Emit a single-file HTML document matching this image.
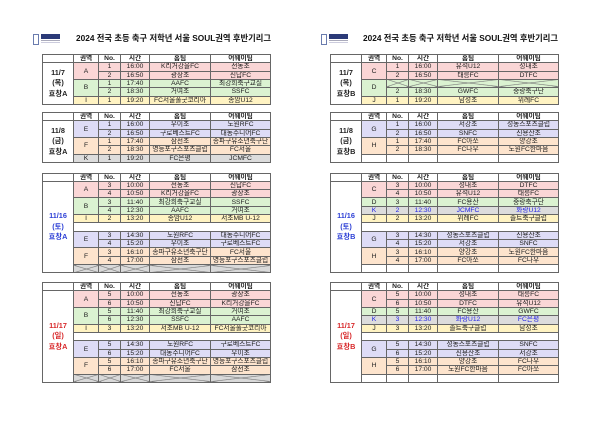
<!DOCTYPE html>
<html><head><meta charset="utf-8">
<style>
body{margin:0;width:600px;height:424px;background:#fff;position:relative;overflow:hidden;font-family:"Liberation Sans","Noto Sans CJK KR",sans-serif;}
table{position:absolute;border-collapse:collapse;table-layout:fixed;width:228px;font-size:6.7px;color:#222;}
td{border:1px solid #666;padding:0;line-height:7px;text-align:center;white-space:nowrap;overflow:hidden;}
tr{height:8.333px;}
tr.h td{font-weight:bold;background:#fff;}
.p td{background:#fad6d6;}
.g td{background:#dbf2d1;}
.y td{background:#fff3c2;}
.v td{background:#dedcf6;}
.o td{background:#fde4cd;}
.k td{background:#dcdcdc;}
td.d{background:#fff !important;font-size:7.3px;font-weight:bold;line-height:10.5px;}
td.w{background:#fff !important;}
.blue{color:#2c3fd6 !important;}
.red{color:#d8282a !important;}
tr.bl td{color:#2424e6;}
td.x{background-image:linear-gradient(to top right,transparent calc(50% - 0.6px),#777 50%,transparent calc(50% + 0.6px)),linear-gradient(to bottom right,transparent calc(50% - 0.6px),#777 50%,transparent calc(50% + 0.6px));}
td.xg{background-color:#d9d9d9 !important;}
.title{position:absolute;top:33px;font-size:8.3px;font-weight:bold;line-height:11px;color:#111;white-space:nowrap;font-family:"Liberation Sans","Noto Sans CJK KR",sans-serif;}
.logo{position:absolute;top:33px;width:27px;height:11px;}
</style></head><body>

<div class="logo" style="left:33px">
  <div style="position:absolute;left:0;top:1px;width:4px;height:9px;border:1px solid #6a7cae;"></div>
  <div style="position:absolute;left:8px;top:1px;width:19px;height:5px;background:#2b3a78;"></div>
  <div style="position:absolute;left:8px;top:7px;width:19px;height:1px;background:#aab;"></div>
  <div style="position:absolute;left:8px;top:9px;width:19px;height:1px;background:#ccd;"></div>
</div>
<div class="logo" style="left:321px">
  <div style="position:absolute;left:0;top:1px;width:4px;height:9px;border:1px solid #6a7cae;"></div>
  <div style="position:absolute;left:8px;top:1px;width:19px;height:5px;background:#2b3a78;"></div>
  <div style="position:absolute;left:8px;top:7px;width:19px;height:1px;background:#aab;"></div>
  <div style="position:absolute;left:8px;top:9px;width:19px;height:1px;background:#ccd;"></div>
</div>

<div class="title" style="left:76px">2024 전국 초등 축구 저학년 서울 SOUL권역 후반기리그</div>
<div class="title" style="left:363px">2024 전국 초등 축구 저학년 서울 SOUL권역 후반기리그</div>

<table style="left:42px;top:54px;height:50px">
<colgroup><col style="width:31px"><col style="width:25px"><col style="width:22px"><col style="width:29px"><col style="width:61px"><col style="width:60px"></colgroup>
<tr class="h"><td></td><td>권역</td><td>No.</td><td>시간</td><td>홈팀</td><td>어웨이팀</td></tr>
<tr class="p"><td rowspan="5" class="d">11/7<br>(목)<br>효창A</td><td rowspan="2">A</td><td>1</td><td>16:00</td><td>K리거강을FC</td><td>전농초</td></tr>
<tr class="p"><td>2</td><td>16:50</td><td>광장초</td><td>신답FC</td></tr>
<tr class="g"><td rowspan="2">B</td><td>1</td><td>17:40</td><td>AAFC</td><td>최강희축구교실</td></tr>
<tr class="g"><td>2</td><td>18:30</td><td>거여초</td><td>SSFC</td></tr>
<tr class="y"><td>I</td><td>1</td><td>19:20</td><td>FC서울풀굿코리아</td><td>종암U12</td></tr>
</table>

<table style="left:42px;top:112px;height:50px">
<colgroup><col style="width:31px"><col style="width:25px"><col style="width:22px"><col style="width:29px"><col style="width:61px"><col style="width:60px"></colgroup>
<tr class="h"><td></td><td>권역</td><td>No.</td><td>시간</td><td>홈팀</td><td>어웨이팀</td></tr>
<tr class="v"><td rowspan="5" class="d">11/8<br>(금)<br>효창A</td><td rowspan="2">E</td><td>1</td><td>16:00</td><td>우이초</td><td>노원RFC</td></tr>
<tr class="v"><td>2</td><td>16:50</td><td>구로베스트FC</td><td>대동주니어FC</td></tr>
<tr class="o"><td rowspan="2">F</td><td>1</td><td>17:40</td><td>삼선초</td><td>송파구유소년축구단</td></tr>
<tr class="o"><td>2</td><td>18:30</td><td>영등포구스포츠클럽</td><td>FC서울</td></tr>
<tr class="k"><td>K</td><td>1</td><td>19:20</td><td>FC은평</td><td>JCMFC</td></tr>
</table>

<table style="left:42px;top:172.5px;height:100px">
<colgroup><col style="width:31px"><col style="width:25px"><col style="width:22px"><col style="width:29px"><col style="width:61px"><col style="width:60px"></colgroup>
<tr class="h"><td></td><td>권역</td><td>No.</td><td>시간</td><td>홈팀</td><td>어웨이팀</td></tr>
<tr class="p"><td rowspan="11" class="d blue">11/16<br>(토)<br>효창A</td><td rowspan="2">A</td><td>3</td><td>10:00</td><td>전농초</td><td>신답FC</td></tr>
<tr class="p"><td>4</td><td>10:50</td><td>K리거강을FC</td><td>광장초</td></tr>
<tr class="g"><td rowspan="2">B</td><td>3</td><td>11:40</td><td>최강희축구교실</td><td>SSFC</td></tr>
<tr class="g"><td>4</td><td>12:30</td><td>AAFC</td><td>거여초</td></tr>
<tr class="y"><td>I</td><td>2</td><td>13:20</td><td>종암U12</td><td>서초MB U-12</td></tr>
<tr><td colspan="5" class="w"></td></tr>
<tr class="v"><td rowspan="2">E</td><td>3</td><td>14:30</td><td>노원RFC</td><td>대동주니어FC</td></tr>
<tr class="v"><td>4</td><td>15:20</td><td>우이초</td><td>구로베스트FC</td></tr>
<tr class="o"><td rowspan="2">F</td><td>3</td><td>16:10</td><td>송파구유소년축구단</td><td>FC서울</td></tr>
<tr class="o"><td>4</td><td>17:00</td><td>삼선초</td><td>영등포구스포츠클럽</td></tr>
<tr><td class="x xg"></td><td class="x xg"></td><td class="x xg"></td><td class="x xg"></td><td class="x xg"></td></tr>
</table>

<table style="left:42px;top:282px;height:100px">
<colgroup><col style="width:31px"><col style="width:25px"><col style="width:22px"><col style="width:29px"><col style="width:61px"><col style="width:60px"></colgroup>
<tr class="h"><td></td><td>권역</td><td>No.</td><td>시간</td><td>홈팀</td><td>어웨이팀</td></tr>
<tr class="p"><td rowspan="11" class="d red">11/17<br>(일)<br>효창A</td><td rowspan="2">A</td><td>5</td><td>10:00</td><td>전농초</td><td>광장초</td></tr>
<tr class="p"><td>6</td><td>10:50</td><td>신답FC</td><td>K리거강을FC</td></tr>
<tr class="g"><td rowspan="2">B</td><td>5</td><td>11:40</td><td>최강희축구교실</td><td>거여초</td></tr>
<tr class="g"><td>6</td><td>12:30</td><td>SSFC</td><td>AAFC</td></tr>
<tr class="y"><td>I</td><td>3</td><td>13:20</td><td>서초MB U-12</td><td>FC서울풀굿코리아</td></tr>
<tr><td colspan="5" class="w"></td></tr>
<tr class="v"><td rowspan="2">E</td><td>5</td><td>14:30</td><td>노원RFC</td><td>구로베스트FC</td></tr>
<tr class="v"><td>6</td><td>15:20</td><td>대동주니어FC</td><td>우이초</td></tr>
<tr class="o"><td rowspan="2">F</td><td>5</td><td>16:10</td><td>송파구유소년축구단</td><td>영등포구스포츠클럽</td></tr>
<tr class="o"><td>6</td><td>17:00</td><td>FC서울</td><td>삼선초</td></tr>
<tr><td class="x xg"></td><td class="x xg"></td><td class="x xg"></td><td class="x xg"></td><td class="x xg"></td></tr>
</table>

<table style="left:330px;top:54px;height:50px">
<colgroup><col style="width:31px"><col style="width:25px"><col style="width:22px"><col style="width:29px"><col style="width:61px"><col style="width:60px"></colgroup>
<tr class="h"><td></td><td>권역</td><td>No.</td><td>시간</td><td>홈팀</td><td>어웨이팀</td></tr>
<tr class="p"><td rowspan="5" class="d">11/7<br>(목)<br>효창B</td><td rowspan="2">C</td><td>1</td><td>16:00</td><td>유석U12</td><td>성내초</td></tr>
<tr class="p"><td>2</td><td>16:50</td><td>태릉FC</td><td>DTFC</td></tr>
<tr class="g"><td rowspan="2">D</td><td class="x"></td><td class="x"></td><td class="x"></td><td class="x"></td></tr>
<tr class="g"><td>2</td><td>18:30</td><td>GWFC</td><td>중랑축구단</td></tr>
<tr class="y"><td>J</td><td>1</td><td>19:20</td><td>남성초</td><td>위례FC</td></tr>
</table>

<table style="left:330px;top:112px;height:50px">
<colgroup><col style="width:31px"><col style="width:25px"><col style="width:22px"><col style="width:29px"><col style="width:61px"><col style="width:60px"></colgroup>
<tr class="h"><td></td><td>권역</td><td>No.</td><td>시간</td><td>홈팀</td><td>어웨이팀</td></tr>
<tr class="v"><td rowspan="5" class="d">11/8<br>(금)<br>효창B</td><td rowspan="2">G</td><td>1</td><td>16:00</td><td>서강초</td><td>성동스포츠클럽</td></tr>
<tr class="v"><td>2</td><td>16:50</td><td>SNFC</td><td>신용산초</td></tr>
<tr class="o"><td rowspan="2">H</td><td>1</td><td>17:40</td><td>FC아쏘</td><td>양강초</td></tr>
<tr class="o"><td>2</td><td>18:30</td><td>FC나우</td><td>노원FC한마음</td></tr>
<tr><td class="w"></td><td class="w"></td><td class="w"></td><td class="w"></td><td class="w"></td></tr>
</table>

<table style="left:330px;top:172.5px;height:100px">
<colgroup><col style="width:31px"><col style="width:25px"><col style="width:22px"><col style="width:29px"><col style="width:61px"><col style="width:60px"></colgroup>
<tr class="h"><td></td><td>권역</td><td>No.</td><td>시간</td><td>홈팀</td><td>어웨이팀</td></tr>
<tr class="p"><td rowspan="11" class="d blue">11/16<br>(토)<br>효창B</td><td rowspan="2">C</td><td>3</td><td>10:00</td><td>성내초</td><td>DTFC</td></tr>
<tr class="p"><td>4</td><td>10:50</td><td>유석U12</td><td>태릉FC</td></tr>
<tr class="g"><td>D</td><td>3</td><td>11:40</td><td>FC용산</td><td>중랑축구단</td></tr>
<tr class="k bl"><td>K</td><td>2</td><td>12:30</td><td>JCMFC</td><td>화랑U12</td></tr>
<tr class="y"><td>J</td><td>2</td><td>13:20</td><td>위례FC</td><td>솔트축구클럽</td></tr>
<tr><td colspan="5" class="w"></td></tr>
<tr class="v"><td rowspan="2">G</td><td>3</td><td>14:30</td><td>성동스포츠클럽</td><td>신용산초</td></tr>
<tr class="v"><td>4</td><td>15:20</td><td>서강초</td><td>SNFC</td></tr>
<tr class="o"><td rowspan="2">H</td><td>3</td><td>16:10</td><td>양강초</td><td>노원FC한마음</td></tr>
<tr class="o"><td>4</td><td>17:00</td><td>FC아쏘</td><td>FC나우</td></tr>
<tr><td class="w"></td><td class="w"></td><td class="w"></td><td class="w"></td><td class="w"></td></tr>
</table>

<table style="left:330px;top:282px;height:100px">
<colgroup><col style="width:31px"><col style="width:25px"><col style="width:22px"><col style="width:29px"><col style="width:61px"><col style="width:60px"></colgroup>
<tr class="h"><td></td><td>권역</td><td>No.</td><td>시간</td><td>홈팀</td><td>어웨이팀</td></tr>
<tr class="p"><td rowspan="11" class="d red">11/17<br>(일)<br>효창B</td><td rowspan="2">C</td><td>5</td><td>10:00</td><td>성내초</td><td>태릉FC</td></tr>
<tr class="p"><td>6</td><td>10:50</td><td>DTFC</td><td>유석U12</td></tr>
<tr class="g"><td>D</td><td>5</td><td>11:40</td><td>FC용산</td><td>GWFC</td></tr>
<tr class="k bl"><td>K</td><td>3</td><td>12:30</td><td>화랑U12</td><td>FC은평</td></tr>
<tr class="y"><td>J</td><td>3</td><td>13:20</td><td>솔트축구클럽</td><td>남성초</td></tr>
<tr><td colspan="5" class="w"></td></tr>
<tr class="v"><td rowspan="2">G</td><td>5</td><td>14:30</td><td>성동스포츠클럽</td><td>SNFC</td></tr>
<tr class="v"><td>6</td><td>15:20</td><td>신용산초</td><td>서강초</td></tr>
<tr class="o"><td rowspan="2">H</td><td>5</td><td>16:10</td><td>양강초</td><td>FC나우</td></tr>
<tr class="o"><td>6</td><td>17:00</td><td>노원FC한마음</td><td>FC아쏘</td></tr>
<tr><td class="w"></td><td class="w"></td><td class="w"></td><td class="w"></td><td class="w"></td></tr>
</table>

</body></html>
